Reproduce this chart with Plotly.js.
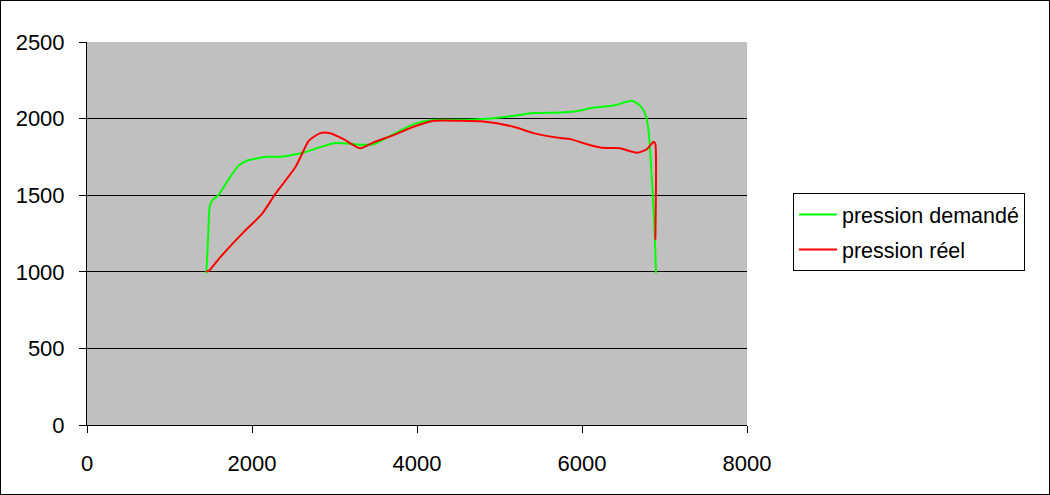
<!DOCTYPE html>
<html>
<head>
<meta charset="utf-8">
<script src="https://cdn.plot.ly/plotly-3.0.1.min.js"></script>
<style>
html,body{margin:0;padding:0;background:#fff;}
#chart{width:1048px;height:493px;border:1px solid #000;}
</style>
</head>
<body>
<div id="chart"></div>
<script>
// pression demandé (green)
const demandeX = [1446, 1470, 1486, 1515, 1595, 1700, 1838, 1939, 2182, 2343, 2625, 2747, 2989, 3150, 3313, 3474, 3716, 3959, 4201, 4525, 4929, 5171, 5413, 5737, 5950, 6140, 6383, 6606, 6707, 6767, 6807, 6848, 6880, 6897];
const demandeY = [991, 1250, 1421, 1465, 1502, 1590, 1693, 1725, 1751, 1751, 1779, 1800, 1839, 1838, 1829, 1833, 1899, 1964, 1992, 1992, 2003, 2018, 2036, 2040, 2050, 2072, 2085, 2116, 2083, 2029, 1921, 1595, 1270, 992];
// pression réel (red)
const reelX = [1446, 1474, 1616, 1898, 2121, 2282, 2525, 2606, 2687, 2828, 2949, 3110, 3313, 3474, 3716, 3959, 4201, 4525, 4808, 5171, 5413, 5737, 5858, 6060, 6222, 6383, 6464, 6666, 6788, 6868, 6889, 6897, 6889];
const reelY = [1005, 1005, 1096, 1259, 1378, 1508, 1682, 1769, 1855, 1905, 1905, 1866, 1806, 1845, 1892, 1947, 1986, 1986, 1981, 1947, 1905, 1873, 1866, 1833, 1812, 1808, 1806, 1777, 1801, 1849, 1834, 1595, 1209];
const seriesNames = ["pression demandé", "pression réel"];
const xTicks = [0, 2000, 4000, 6000, 8000];
const yTicks = [0, 500, 1000, 1500, 2000, 2500];

const traces = [
  {x: demandeX, y: demandeY, name: seriesNames[0], legendgroup: 'a', type: 'scatter', mode: 'lines',
   line: {color: '#00ff00', width: 2, shape: 'spline', smoothing: 0.6}},
  {x: reelX, y: reelY, name: seriesNames[1], legendgroup: 'b', type: 'scatter', mode: 'lines',
   line: {color: '#ff0000', width: 2, shape: 'spline', smoothing: 0.6}}
];

const layout = {
  width: 1048, height: 493,
  margin: {l: 86, r: 302, t: 41, b: 69, pad: 0},
  paper_bgcolor: '#ffffff',
  plot_bgcolor: '#c0c0c0',
  font: {family: 'Liberation Sans, Arial, sans-serif', size: 22, color: '#000'},
  showlegend: true,
  legend: {
    x: 1.0697, y: 0.6057, xanchor: 'left', yanchor: 'top',
    bgcolor: '#ffffff', bordercolor: '#000', borderwidth: 1,
    font: {size: 21.5, family: 'Liberation Sans, Arial, sans-serif'},
    traceorder: 'grouped', tracegroupgap: 4, itemwidth: 38
  },
  xaxis: {
    range: [0, 8000], tickvals: xTicks, ticktext: xTicks.map(String),
    showgrid: false, zeroline: false, showline: true, linecolor: '#000', linewidth: 1,
    ticks: 'outside', ticklen: 7, tickcolor: '#000', tickfont: {size: 22},
    ticklabelstandoff: 12
  },
  yaxis: {
    range: [0, 2500], tickvals: yTicks, ticktext: yTicks.map(String),
    showgrid: true, gridcolor: '#000', gridwidth: 1, zeroline: false,
    showline: true, linecolor: '#000', linewidth: 1,
    ticks: 'outside', ticklen: 7, tickcolor: '#000', tickfont: {size: 22},
    ticklabelstandoff: 10
  }
};

Plotly.newPlot('chart', traces, layout, {displayModeBar: false, staticPlot: true});
</script>
</body>
</html>
